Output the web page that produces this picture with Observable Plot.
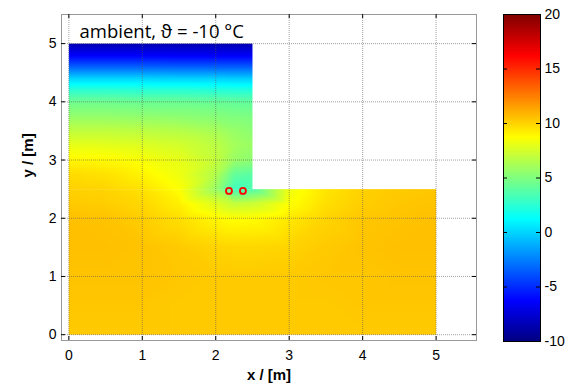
<!DOCTYPE html>
<html><head><meta charset="utf-8">
<script src="https://cdn.jsdelivr.net/npm/d3@7"></script>
<script src="https://cdn.jsdelivr.net/npm/@observablehq/plot@0.6"></script>
<style>
html,body{margin:0;padding:0;background:#fff;}
#wrap{position:relative;width:573px;height:390px;overflow:hidden;}
#wrap svg{position:absolute;top:0;}
</style></head><body><div id="wrap"></div>
<script>
// ---- data (temperature in °C) ----
const xBottom = [0, 0.5, 1, 1.5, 2, 2.25, 2.5, 3, 3.5, 4, 4.5, 5];
const yBottom = [0, 0.5, 1, 1.5, 2, 2.25, 2.5];
const tBottom = [
  [10.3,10.3,10.3,10.3,10.3,10.3,10.3,10.3,10.3,10.3,10.3,10.3],
  [10.4,10.4,10.4,10.3,10.3,10.3,10.3,10.3,10.3,10.4,10.4,10.4],
  [10.5,10.5,10.5,10.4,10.3,10.3,10.3,10.3,10.4,10.4,10.5,10.5],
  [10.6,10.6,10.5,10.3,10.0, 9.9, 9.9,10.0,10.3,10.5,10.6,10.6],
  [10.6,10.5,10.2, 9.7, 9.0, 8.7, 8.8, 9.4,10.0,10.4,10.5,10.6],
  [10.3,10.2, 9.9, 9.2, 7.8, 7.0, 7.2, 8.7, 9.7,10.2,10.4,10.5],
  [10.1,10.0, 9.6, 8.7, 5.8, 3.2, 3.6, 8.3, 9.5,10.1,10.3,10.4]
];
const xTop = [0, 0.5, 1, 1.5, 2, 2.25, 2.5];
const yTop = [2.5, 2.75, 3, 3.25, 3.5, 3.75, 4, 4.2, 4.4, 4.6, 4.8, 5];
const tTop = [
  [10.1,10.0, 9.6, 8.7, 5.8, 3.2, 3.6],
  [ 9.8, 9.6, 9.1, 8.3, 6.5, 4.2, 3.9],
  [ 9.0, 8.9, 8.6, 8.1, 7.0, 5.8, 5.4],
  [ 8.1, 8.0, 7.8, 7.5, 6.8, 6.1, 5.8],
  [ 6.9, 6.9, 6.8, 6.6, 6.2, 5.7, 5.4],
  [ 5.6, 5.6, 5.5, 5.4, 5.2, 5.0, 4.9],
  [ 4.5, 4.5, 4.4, 4.4, 4.3, 4.2, 4.1],
  [ 2.6, 2.6, 2.5, 2.5, 2.4, 2.3, 2.3],
  [ 0.0, 0.0, 0.0,-0.1,-0.1,-0.2,-0.2],
  [-3.4,-3.4,-3.4,-3.5,-3.5,-3.5,-3.5],
  [-6.4,-6.4,-6.4,-6.5,-6.5,-6.5,-6.5],
  [-8.5,-8.5,-8.5,-8.5,-8.5,-8.5,-8.5]
];
const sinkX = [2.18, 2.37];
const sinkY = [2.47, 2.47];
const xTicks = [0, 1, 2, 3, 4, 5];
const yTicks = [0, 1, 2, 3, 4, 5];
const cbTicks = [-10, -5, 0, 5, 10, 15, 20];
const titleText = "ambient, \u03D1 = -10 \u00B0C";

// ---- build tables ----
const grid = (xs, ys, ts) => ys.flatMap((y, j) => xs.map((x, i) => ({x, y, t: ts[j][i]})));
const bottomPts = grid(xBottom, yBottom, tBottom);
const topPts = grid(xTop, yTop, tTop);
const sinks = sinkX.map((x, i) => ({x, y: sinkY[i]}));

const jet = {
  type: "linear",
  domain: [-10, -6.25, 1.25, 8.75, 16.25, 20],
  range: ["#000080", "#0000ff", "#00ffff", "#ffff00", "#ff0000", "#800000"],
  interpolate: "rgb"
};
const font = "'Liberation Sans', Arial, Helvetica, sans-serif";
const fmt = d => String(d);

const W = 573, H = 390, mL = 61, mR = 97, mT = 14, mB = 50;
const fw = W - mL - mR, fh = H - mT - mB;

const main = Plot.plot({
  width: W, height: H,
  marginLeft: mL, marginRight: mR, marginTop: mT, marginBottom: mB,
  style: {background: "transparent", fontFamily: font, fontSize: "14px", color: "#000"},
  x: {domain: [-0.1, 5.55], label: null},
  y: {domain: [-0.1, 5.5], label: null},
  color: jet,
  marks: [
    Plot.raster(bottomPts, {x: "x", y: "y", fill: "t", x1: 0, x2: 5, y1: 0, y2: 2.5, interpolate: "barycentric"}),
    Plot.raster(topPts, {x: "x", y: "y", fill: "t", x1: 0, x2: 2.5, y1: 2.5, y2: 5, interpolate: "barycentric"}),
    Plot.gridX(xTicks, {stroke: "#555", strokeOpacity: 0.55, strokeDasharray: "1,1"}),
    Plot.gridY(yTicks, {stroke: "#555", strokeOpacity: 0.55, strokeDasharray: "1,1"}),
    Plot.frame({stroke: "#999"}),
    Plot.tickX(xTicks, {x: d => d, insetTop: fh - 4, stroke: "#000"}),
    Plot.tickX(xTicks, {x: d => d, insetBottom: fh - 4, stroke: "#000"}),
    Plot.tickY(yTicks, {y: d => d, insetRight: fw - 4, stroke: "#000"}),
    Plot.tickY(yTicks, {y: d => d, insetLeft: fw - 4, stroke: "#000"}),
    Plot.axisX(xTicks, {tickSize: 0, tickPadding: 10, tickFormat: fmt, label: null, fontSize: 14}),
    Plot.axisY(yTicks, {tickSize: 0, tickPadding: 5, tickFormat: fmt, label: null, fontSize: 14}),
    Plot.dot(sinks, {x: "x", y: "y", r: 3, stroke: "#ff0000", strokeWidth: 1.8, fill: "none"}),
    Plot.text([titleText], {frameAnchor: "top-left", dx: 18, dy: 10, textAnchor: "start", fontSize: 18.5, fontFamily: "'Open Sans', sans-serif", fill: "#000"}),
    Plot.text(["x / [m]"], {frameAnchor: "bottom", dy: 39, fontSize: 15, fontWeight: "bold", fill: "#000"}),
    Plot.text(["y / [m]"], {frameAnchor: "left", dx: -33, rotate: -90, fontSize: 15, fontWeight: "bold", fill: "#000"})
  ]
});
main.style.left = "0px";

const cbW = 83, cbL = 13, cbR = 33;
const cb = Plot.plot({
  width: cbW, height: H,
  marginLeft: cbL, marginRight: cbR, marginTop: 14, marginBottom: 49,
  style: {background: "transparent", fontFamily: font, fontSize: "14px", color: "#000"},
  x: {domain: [0, 1], axis: null},
  y: {domain: [-10, 20], axis: null},
  color: jet,
  marks: [
    Plot.raster({fill: (x, y) => y, x1: 0, x2: 1, y1: -10, y2: 20}),
    Plot.frame({stroke: "#000"}),
    Plot.tickY(cbTicks, {y: d => d, insetRight: cbW - cbL - cbR - 4, stroke: "#000"}),
    Plot.tickY(cbTicks, {y: d => d, insetLeft: cbW - cbL - cbR - 4, stroke: "#000"}),
    Plot.axisY(cbTicks, {anchor: "right", tickSize: 0, tickPadding: 4, tickFormat: fmt, label: null, fontSize: 14})
  ]
});
cb.style.left = "490px";

document.getElementById("wrap").append(main, cb);
</script></body></html>
